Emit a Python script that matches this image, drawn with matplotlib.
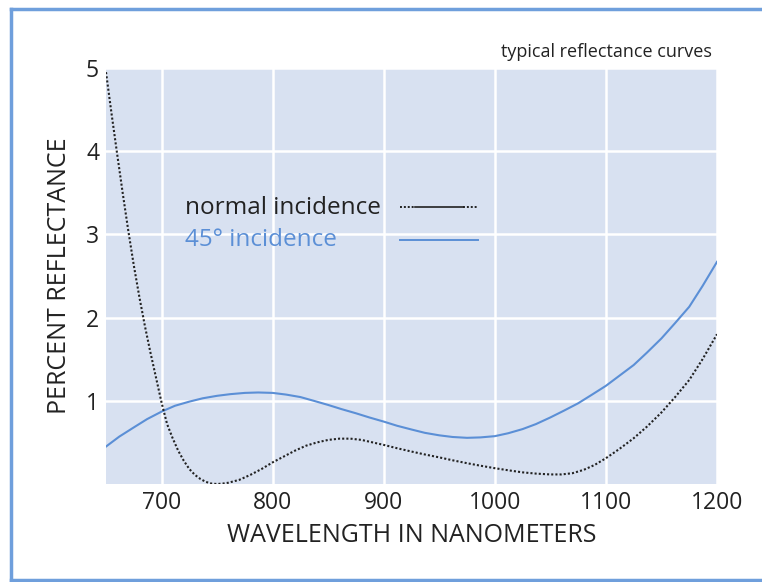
import matplotlib
matplotlib.use("Agg")
import matplotlib.pyplot as plt
from matplotlib.lines import Line2D

plt.rcParams['font.family'] = ['Open Sans', 'DejaVu Sans']

# Data
normal_wl = [650, 655, 660, 665, 670, 675, 680, 685, 690, 695, 700, 705, 710, 715, 720,
             725, 730, 735, 740, 745, 750, 755, 760, 770, 780, 790, 800, 810, 820, 830,
             840, 850, 860, 870, 880, 890, 900, 912, 925, 937, 950, 962, 975, 987, 1000,
             1012, 1025, 1037, 1050, 1060, 1070, 1080, 1090, 1100, 1112, 1125, 1137,
             1150, 1162, 1175, 1187, 1200]
normal_r = [4.95, 4.45, 3.97, 3.5, 3.05, 2.63, 2.25, 1.9, 1.58, 1.28, 0.98, 0.72, 0.55,
            0.4, 0.28, 0.18, 0.11, 0.06, 0.025, 0.005, 0.0, 0.005, 0.015, 0.05, 0.11,
            0.18, 0.26, 0.33, 0.4, 0.46, 0.5, 0.53, 0.545, 0.545, 0.53, 0.5, 0.47, 0.43,
            0.39, 0.355, 0.32, 0.285, 0.25, 0.22, 0.19, 0.165, 0.14, 0.125, 0.115,
            0.115, 0.13, 0.17, 0.23, 0.31, 0.42, 0.55, 0.69, 0.86, 1.04, 1.25, 1.5, 1.8]

oblique_wl = [650, 662, 675, 687, 700, 712, 725, 737, 750, 762, 775, 787, 800, 812, 825,
              837, 850, 862, 875, 887, 900, 912, 925, 937, 950, 962, 975, 987, 1000,
              1012, 1025, 1037, 1050, 1062, 1075, 1087, 1100, 1112, 1125, 1137, 1150,
              1162, 1175, 1187, 1200]
oblique_r = [0.45, 0.57, 0.68, 0.78, 0.87, 0.94, 0.99, 1.03, 1.06, 1.08, 1.095, 1.1,
             1.095, 1.075, 1.045, 1.0, 0.95, 0.9, 0.85, 0.8, 0.75, 0.7, 0.655, 0.615,
             0.585, 0.565, 0.555, 0.56, 0.575, 0.61, 0.66, 0.72, 0.8, 0.88, 0.97, 1.07,
             1.18, 1.3, 1.43, 1.58, 1.75, 1.93, 2.13, 2.38, 2.67]

x_ticks = [700, 800, 900, 1000, 1100, 1200]
y_ticks = [1, 2, 3, 4, 5]

text_col = '#222222'
blue = '#5b8fd6'

fig = plt.figure(figsize=(7.62, 5.82), dpi=100)
W, H = 762, 582
ax = fig.add_axes([106 / W, 1 - 484 / H, 611 / W, 416 / H])
ax.set_facecolor('#d8e1f1')
for s in ax.spines.values():
    s.set_visible(False)
ax.grid(True, color='white', linewidth=1.8)
ax.set_axisbelow(True)

ax.plot(oblique_wl, oblique_r, color=blue, linewidth=1.5, zorder=3)
ax.plot(normal_wl, normal_r, color='#222222', linewidth=1.5,
        linestyle=(0, (1, 1)), zorder=3)

ax.set_xlim(650, 1200)
ax.set_ylim(0, 5)
ax.set_xticks(x_ticks)
ax.set_yticks(y_ticks)
ax.tick_params(length=0, labelsize=16.5, colors=text_col, pad=5)
ax.set_xlabel('WAVELENGTH IN NANOMETERS', fontsize=18, color=text_col, labelpad=6)
ax.set_ylabel('PERCENT REFLECTANCE', fontsize=18, color=text_col, labelpad=10)

# legend-like labels
ax.text(0.129, 0.663, 'normal incidence', transform=ax.transAxes, fontsize=17.5,
        color=text_col, va='center', ha='left')
ax.text(0.129, 0.587, '45° incidence', transform=ax.transAxes, fontsize=17.5,
        color=blue, va='center', ha='left')
ax.add_line(Line2D([0.481, 0.505], [0.665, 0.665], transform=ax.transAxes,
                   color=text_col, lw=1.4, linestyle=(0, (1, 1))))
ax.add_line(Line2D([0.505, 0.585], [0.665, 0.665], transform=ax.transAxes,
                   color=text_col, lw=1.2))
ax.add_line(Line2D([0.585, 0.609], [0.665, 0.665], transform=ax.transAxes,
                   color=text_col, lw=1.4, linestyle=(0, (1, 1))))
ax.add_line(Line2D([0.481, 0.609], [0.587, 0.587], transform=ax.transAxes,
                   color=blue, lw=1.4))

fig.text(712 / W, 1 - 52 / H, 'typical reflectance curves', fontsize=13,
         color=text_col, ha='right', va='center')

# frame
bc = '#6f9fdc'
fig.add_artist(Line2D([11 / W, 1.0], [1 - 9 / H, 1 - 9 / H], transform=fig.transFigure,
                      color=bc, lw=2.5))
fig.add_artist(Line2D([11 / W, 11 / W], [1 - 9 / H, 1 - 580 / H], transform=fig.transFigure,
                      color=bc, lw=2.5))
fig.add_artist(Line2D([11 / W, 1.0], [1 - 580 / H, 1 - 580 / H], transform=fig.transFigure,
                      color=bc, lw=2.5))

fig.savefig('out.png', dpi=100)
